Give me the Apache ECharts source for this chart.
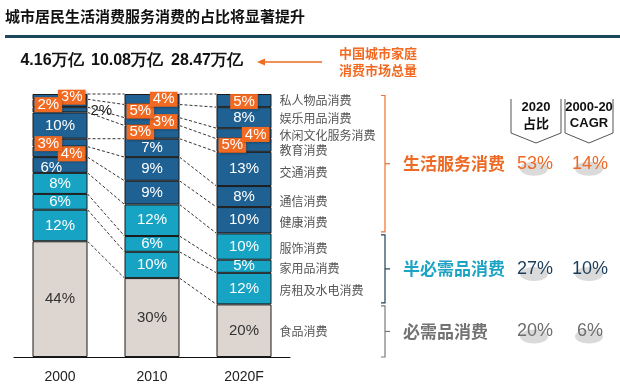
<!DOCTYPE html>
<html><head><meta charset="utf-8">
<script src="https://cdn.jsdelivr.net/npm/echarts@6/dist/echarts.min.js"></script>
<style>html,body{margin:0;padding:0;background:#fff}#c{width:620px;height:385px}</style>
</head><body><div id="c"></div>
<script>
// ---------- data ----------
const years = ['2000', '2010', '2020F'];
const categories = ['食品消费', '房租及水电消费', '家用品消费', '服饰消费', '健康消费', '通信消费', '交通消费', '教育消费', '休闲文化服务消费', '娱乐用品消费', '私人物品消费'];
const share2000 = [44, 12, 6, 8, 6, 4, 3, 10, 2, 3, 2];
const share2010 = [30, 10, 6, 12, 9, 9, 7, 5, 3, 5, 4];
const share2020 = [20, 12, 5, 10, 10, 8, 13, 5, 4, 8, 5];
const totals = ['4.16万亿', '10.08万亿', '28.47万亿'];
const groupNames = ['必需品消费', '半必需品消费', '生活服务消费'];
const groupOf = [0, 1, 1, 1, 2, 2, 2, 2, 2, 2, 2];
const groupShare2020 = ['20%', '27%', '53%'];
const groupCagr = ['6%', '10%', '14%'];
const noteText = ['中国城市家庭', '消费市场总量'];
const titleText = '城市居民生活消费服务消费的占比将显著提升';

// ---------- styles ----------
const NUM = "'Liberation Sans Narrow','Arial Narrow','Liberation Sans',Arial,sans-serif";
const CJK = "'Noto Sans CJK SC','Noto Sans',sans-serif";
const ORANGE = '#F26A21';
const groupColors = ['#DDD5CF', '#17A3C3', '#1F6193'];
const groupTextColors = ['#737373', '#1DA3C4', '#EE6A24'];
const groupNumColors = ['#6E6E6E', '#1B3D5A', '#EE6A24'];
const braceColors = ['#7a7a7a', '#1E3F55', '#F07030'];
const BAR_W = 55, HALF = BAR_W / 2;
// callout placement per year: category index -> [placement, dy]
const callouts = [
  {10: ['L', 8], 9: ['R', -6], 8: ['O', 1], 6: ['L', 1], 5: ['R', 2], 4: ['P', 3]},
  {10: ['R', 0], 9: ['L', 0], 8: ['R', 0], 7: ['L', 0]},
  {10: ['C', 1], 8: ['R', 1], 7: ['L', 0]}
];
const nameNudge = [1, 2, 2, 2, 2, 5, 3, 5, 2, 1, 0];

const shares = [share2000, share2010, share2020];
const cum = shares.map(arr => { let s = 0; return arr.map(v => (s += v)); });

function itemLabel(yi, ci, v) {
  const c = callouts[yi][ci];
  const base = {show: true, formatter: v + '%', fontFamily: NUM, fontSize: 15};
  const plainColor = groupOf[ci] === 0 ? '#333' : '#fff';
  if (!c) return Object.assign(base, {position: 'inside', color: plainColor});
  if (c[0] === 'P') return Object.assign(base, {position: 'insideLeft', distance: 8, offset: [0, c[1]], color: plainColor});
  if (c[0] === 'O') return Object.assign(base, {position: 'right', distance: 3, color: '#222', offset: [0, c[1]]});
  const pos = c[0] === 'L' ? 'insideLeft' : c[0] === 'R' ? 'insideRight' : 'inside';
  return Object.assign(base, {position: pos, distance: 2, offset: [0, c[1]], color: '#fff',
    backgroundColor: ORANGE, padding: [1, 3, 0, 3], lineHeight: 14,
    shadowColor: 'rgba(0,0,0,0.25)', shadowBlur: 2, shadowOffsetX: 1, shadowOffsetY: 1});
}

const barSeries = categories.map((name, ci) => ({
  type: 'bar', name, stack: 's', barWidth: BAR_W, z: 3,
  itemStyle: {color: groupColors[groupOf[ci]], borderColor: '#1a1a1a', borderWidth: 1},
  emphasis: {disabled: true},
  data: shares.map((arr, yi) => ({value: arr[ci], label: itemLabel(yi, ci, arr[ci])}))
}));

const connData = [];
for (let yi = 0; yi < 2; yi++) for (let ci = 0; ci < categories.length; ci++)
  connData.push([yi, cum[yi][ci], yi + 1, cum[yi + 1][ci]]);

const connSeries = {
  type: 'custom', silent: true, z: 1, data: connData,
  encode: {x: [0, 2], y: [1, 3]},
  renderItem: (p, api) => {
    const a = api.coord([api.value(0), api.value(1)]);
    const b = api.coord([api.value(2), api.value(3)]);
    return {type: 'line', shape: {x1: a[0] + HALF, y1: a[1], x2: b[0] - HALF, y2: b[1]},
      style: {stroke: '#333', lineWidth: 1, lineDash: [3, 2]}};
  }
};

const nameData = categories.map((n, ci) => [2, cum[2][ci] - share2020[ci] / 2, ci]);
const nameSeries = {
  type: 'custom', silent: true, z: 5, data: nameData,
  encode: {x: 0, y: 1},
  renderItem: (p, api) => {
    const ci = api.value(2);
    const pt = api.coord([api.value(0), api.value(1)]);
    return {type: 'text', style: {text: categories[ci], x: pt[0] + HALF + 8, y: pt[1] + nameNudge[ci],
      fill: '#555', fontSize: 12, fontFamily: CJK, align: 'left', verticalAlign: 'middle'}};
  }
};

// group spans on 2020 column
const groupSpans = [0, 1, 2].map(g => {
  let lo = 0, hi = 0;
  categories.forEach((c, ci) => { if (groupOf[ci] < g) lo += share2020[ci]; if (groupOf[ci] <= g) hi += share2020[ci]; });
  return [2, lo, hi, g];
});
const BX = 385;
const groupSeries = {
  type: 'custom', silent: true, z: 5, data: groupSpans,
  encode: {x: 0, y: [1, 2]},
  renderItem: (p, api) => {
    const g = api.value(3);
    const yB = api.coord([2, api.value(1)])[1] - (g === 0 ? 0 : 1.5);
    const yT = api.coord([2, api.value(2)])[1] + 1.5;
    const yM = (yT + yB) / 2;
    const col = braceColors[g];
    return {type: 'group', children: [
      {type: 'polyline', shape: {points: [[BX - 4, yT], [BX, yT], [BX, yB], [BX - 4, yB]]}, style: {stroke: col, lineWidth: 1.2, fill: null}},
      {type: 'line', shape: {x1: BX, y1: yM, x2: BX + 5, y2: yM}, style: {stroke: col, lineWidth: 1.2}},
      {type: 'ellipse', shape: {cx: 534, cy: yM + 5, rx: 14, ry: 7}, style: {fill: '#DADADA'}},
      {type: 'ellipse', shape: {cx: 589, cy: yM + 5, rx: 14, ry: 7}, style: {fill: '#DADADA'}},
      {type: 'text', style: {text: groupNames[g], x: 403, y: yM, fill: groupTextColors[g], fontSize: 17, fontWeight: 'bold', fontFamily: CJK, align: 'left', verticalAlign: 'middle'}},
      {type: 'text', style: {text: groupShare2020[g], x: 535, y: yM, fill: groupNumColors[g], fontSize: 18, fontFamily: NUM, align: 'center', verticalAlign: 'middle'}},
      {type: 'text', style: {text: groupCagr[g], x: 590, y: yM, fill: groupNumColors[g], fontSize: 18, fontFamily: NUM, align: 'center', verticalAlign: 'middle'}}
    ]};
  }
};

const totalX = [52, 127, 207];
const graphic = [
  {type: 'text', left: 5, top: 9, style: {text: titleText, fill: '#111', fontSize: 15, fontWeight: 'bold', fontFamily: CJK}},
  {type: 'rect', shape: {x: 5, y: 35, width: 615, height: 3}, style: {fill: '#1C4A5C'}},
  ...totals.map((t, i) => ({type: 'text', x: totalX[i], y: 61, style: {text: t, fill: '#111', fontSize: 16, fontWeight: 'bold', fontFamily: NUM, align: 'center', verticalAlign: 'middle'}})),
  {type: 'line', shape: {x1: 262, y1: 62, x2: 322, y2: 62}, style: {stroke: ORANGE, lineWidth: 1.5}},
  {type: 'polygon', shape: {points: [[257, 62], [265, 58.5], [265, 65.5]]}, style: {fill: ORANGE}},
  {type: 'text', x: 378, y: 53, style: {text: noteText[0], fill: ORANGE, fontSize: 13, fontWeight: 'bold', fontFamily: CJK, align: 'center', verticalAlign: 'middle'}},
  {type: 'text', x: 378, y: 70, style: {text: noteText[1], fill: ORANGE, fontSize: 13, fontWeight: 'bold', fontFamily: CJK, align: 'center', verticalAlign: 'middle'}},
  {type: 'polyline', shape: {points: [[511, 99], [511, 133], [536, 143], [561, 133], [561, 99]]}, style: {stroke: '#555', lineWidth: 1, fill: null}},
  {type: 'polyline', shape: {points: [[565, 99], [565, 133], [589, 143], [613, 133], [613, 99]]}, style: {stroke: '#555', lineWidth: 1, fill: null}},
  {type: 'text', x: 536, y: 107, style: {text: '2020', fill: '#111', fontSize: 13, fontWeight: 'bold', fontFamily: NUM, align: 'center', verticalAlign: 'middle'}},
  {type: 'text', x: 536, y: 123, style: {text: '占比', fill: '#111', fontSize: 13, fontWeight: 'bold', fontFamily: CJK, align: 'center', verticalAlign: 'middle'}},
  {type: 'text', x: 589, y: 107, style: {text: '2000-20', fill: '#111', fontSize: 13, fontWeight: 'bold', fontFamily: NUM, align: 'center', verticalAlign: 'middle'}},
  {type: 'text', x: 589, y: 123, style: {text: 'CAGR', fill: '#111', fontSize: 13, fontWeight: 'bold', fontFamily: NUM, align: 'center', verticalAlign: 'middle'}}
];

const chart = echarts.init(document.getElementById('c'), null, {renderer: 'canvas'});
chart.setOption({
  animation: false,
  backgroundColor: '#fff',
  grid: {left: 14, right: 330, top: 94, bottom: 28},
  xAxis: {type: 'category', data: years, axisLine: {lineStyle: {color: '#111', width: 1}}, axisTick: {show: false},
    axisLabel: {color: '#222', fontSize: 14, fontFamily: NUM, margin: 13}},
  yAxis: {type: 'value', min: 0, max: 100, show: false},
  series: [connSeries, ...barSeries, nameSeries, groupSeries],
  graphic
});
</script></body></html>
